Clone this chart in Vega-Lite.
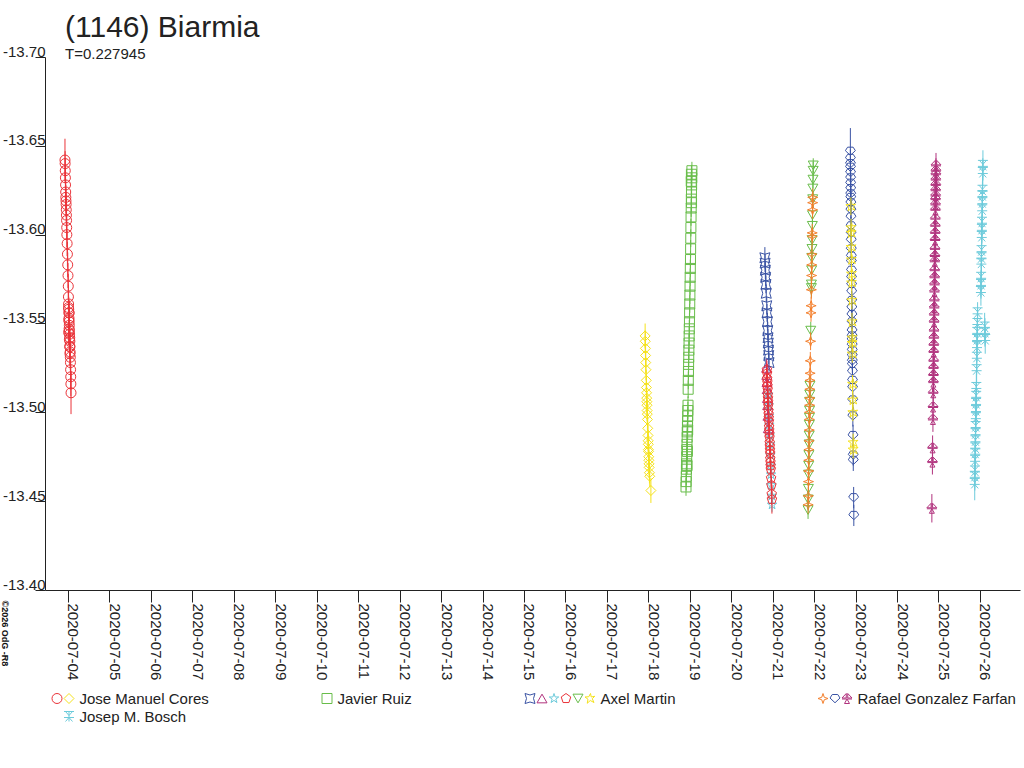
{
  "$schema": "https://vega.github.io/schema/vega-lite/v6.json",
  "autosize": {"type": "none"},
  "padding": {"left": 45, "top": 57, "right": 4, "bottom": 178},
  "width": 975,
  "height": 533,
  "background": "white",
  "title": {
    "text": "(1146) Biarmia",
    "subtitle": "T=0.227945",
    "anchor": "start",
    "frame": "group",
    "dx": 20,
    "offset": -18,
    "font": "Liberation Sans",
    "fontSize": 30,
    "fontWeight": "normal",
    "color": "#222222",
    "subtitleFont": "Liberation Sans",
    "subtitleFontSize": 15,
    "subtitleColor": "#222222",
    "subtitlePadding": 4
  },
  "data": {
    "values": [
      {"s":"a","t":"2020-07-03T22:15Z","m":-13.642,"e":0.012},
      {"s":"a","t":"2020-07-03T22:20Z","m":-13.640,"e":0.007},
      {"s":"a","t":"2020-07-03T22:25Z","m":-13.636,"e":0.007},
      {"s":"a","t":"2020-07-03T22:30Z","m":-13.632,"e":0.007},
      {"s":"a","t":"2020-07-03T22:35Z","m":-13.628,"e":0.007},
      {"s":"a","t":"2020-07-03T22:40Z","m":-13.624,"e":0.007},
      {"s":"a","t":"2020-07-03T22:45Z","m":-13.621,"e":0.007},
      {"s":"a","t":"2020-07-03T22:50Z","m":-13.619,"e":0.007},
      {"s":"a","t":"2020-07-03T22:55Z","m":-13.617,"e":0.007},
      {"s":"a","t":"2020-07-03T23:00Z","m":-13.614,"e":0.007},
      {"s":"a","t":"2020-07-03T23:05Z","m":-13.611,"e":0.007},
      {"s":"a","t":"2020-07-03T23:10Z","m":-13.608,"e":0.007},
      {"s":"a","t":"2020-07-03T23:15Z","m":-13.604,"e":0.007},
      {"s":"a","t":"2020-07-03T23:20Z","m":-13.600,"e":0.007},
      {"s":"a","t":"2020-07-03T23:30Z","m":-13.595,"e":0.007},
      {"s":"a","t":"2020-07-03T23:40Z","m":-13.589,"e":0.007},
      {"s":"a","t":"2020-07-03T23:50Z","m":-13.583,"e":0.007},
      {"s":"a","t":"2020-07-04T00:00Z","m":-13.577,"e":0.007},
      {"s":"a","t":"2020-07-04T00:10Z","m":-13.571,"e":0.007},
      {"s":"a","t":"2020-07-04T00:15Z","m":-13.565,"e":0.007},
      {"s":"a","t":"2020-07-04T00:18Z","m":-13.559,"e":0.007},
      {"s":"a","t":"2020-07-04T00:20Z","m":-13.561,"e":0.007},
      {"s":"a","t":"2020-07-04T00:22Z","m":-13.545,"e":0.007},
      {"s":"a","t":"2020-07-04T00:25Z","m":-13.558,"e":0.007},
      {"s":"a","t":"2020-07-04T00:28Z","m":-13.552,"e":0.007},
      {"s":"a","t":"2020-07-04T00:30Z","m":-13.556,"e":0.007},
      {"s":"a","t":"2020-07-04T00:35Z","m":-13.553,"e":0.007},
      {"s":"a","t":"2020-07-04T00:38Z","m":-13.547,"e":0.007},
      {"s":"a","t":"2020-07-04T00:40Z","m":-13.551,"e":0.007},
      {"s":"a","t":"2020-07-04T00:42Z","m":-13.556,"e":0.007},
      {"s":"a","t":"2020-07-04T00:45Z","m":-13.549,"e":0.007},
      {"s":"a","t":"2020-07-04T00:48Z","m":-13.541,"e":0.007},
      {"s":"a","t":"2020-07-04T00:50Z","m":-13.546,"e":0.007},
      {"s":"a","t":"2020-07-04T00:55Z","m":-13.544,"e":0.007},
      {"s":"a","t":"2020-07-04T00:58Z","m":-13.537,"e":0.007},
      {"s":"a","t":"2020-07-04T01:00Z","m":-13.542,"e":0.007},
      {"s":"a","t":"2020-07-04T01:05Z","m":-13.540,"e":0.007},
      {"s":"a","t":"2020-07-04T01:08Z","m":-13.533,"e":0.007},
      {"s":"a","t":"2020-07-04T01:10Z","m":-13.537,"e":0.007},
      {"s":"a","t":"2020-07-04T01:15Z","m":-13.534,"e":0.007},
      {"s":"a","t":"2020-07-04T01:20Z","m":-13.531,"e":0.007},
      {"s":"a","t":"2020-07-04T01:25Z","m":-13.528,"e":0.007},
      {"s":"a","t":"2020-07-04T01:30Z","m":-13.524,"e":0.007},
      {"s":"a","t":"2020-07-04T01:35Z","m":-13.520,"e":0.007},
      {"s":"a","t":"2020-07-04T01:40Z","m":-13.516,"e":0.007},
      {"s":"a","t":"2020-07-04T01:45Z","m":-13.511,"e":0.012},

      {"s":"b","t":"2020-07-17T22:10Z","m":-13.543,"e":0.007},
      {"s":"b","t":"2020-07-17T22:15Z","m":-13.540,"e":0.006},
      {"s":"b","t":"2020-07-17T22:20Z","m":-13.536,"e":0.006},
      {"s":"b","t":"2020-07-17T22:25Z","m":-13.532,"e":0.006},
      {"s":"b","t":"2020-07-17T22:30Z","m":-13.528,"e":0.006},
      {"s":"b","t":"2020-07-17T22:40Z","m":-13.524,"e":0.006},
      {"s":"b","t":"2020-07-17T22:50Z","m":-13.518,"e":0.006},
      {"s":"b","t":"2020-07-17T22:55Z","m":-13.514,"e":0.006},
      {"s":"b","t":"2020-07-17T23:00Z","m":-13.511,"e":0.006},
      {"s":"b","t":"2020-07-17T23:05Z","m":-13.508,"e":0.006},
      {"s":"b","t":"2020-07-17T23:10Z","m":-13.506,"e":0.006},
      {"s":"b","t":"2020-07-17T23:15Z","m":-13.504,"e":0.006},
      {"s":"b","t":"2020-07-17T23:20Z","m":-13.501,"e":0.006},
      {"s":"b","t":"2020-07-17T23:25Z","m":-13.499,"e":0.006},
      {"s":"b","t":"2020-07-17T23:30Z","m":-13.496,"e":0.006},
      {"s":"b","t":"2020-07-17T23:40Z","m":-13.491,"e":0.006},
      {"s":"b","t":"2020-07-17T23:50Z","m":-13.487,"e":0.006},
      {"s":"b","t":"2020-07-17T23:55Z","m":-13.484,"e":0.006},
      {"s":"b","t":"2020-07-18T00:00Z","m":-13.482,"e":0.006},
      {"s":"b","t":"2020-07-18T00:05Z","m":-13.479,"e":0.006},
      {"s":"b","t":"2020-07-18T00:10Z","m":-13.478,"e":0.006},
      {"s":"b","t":"2020-07-18T00:15Z","m":-13.475,"e":0.006},
      {"s":"b","t":"2020-07-18T00:20Z","m":-13.473,"e":0.006},
      {"s":"b","t":"2020-07-18T00:25Z","m":-13.471,"e":0.006},
      {"s":"b","t":"2020-07-18T00:30Z","m":-13.469,"e":0.006},
      {"s":"b","t":"2020-07-18T00:40Z","m":-13.466,"e":0.006},
      {"s":"b","t":"2020-07-18T00:50Z","m":-13.464,"e":0.006},
      {"s":"b","t":"2020-07-18T01:30Z","m":-13.456,"e":0.007},

      {"s":"c","t":"2020-07-18T21:50Z","m":-13.458,"e":0.005},
      {"s":"c","t":"2020-07-18T21:55Z","m":-13.461,"e":0.005},
      {"s":"c","t":"2020-07-18T22:00Z","m":-13.464,"e":0.005},
      {"s":"c","t":"2020-07-18T22:05Z","m":-13.468,"e":0.005},
      {"s":"c","t":"2020-07-18T22:10Z","m":-13.471,"e":0.005},
      {"s":"c","t":"2020-07-18T22:15Z","m":-13.475,"e":0.005},
      {"s":"c","t":"2020-07-18T22:20Z","m":-13.479,"e":0.005},
      {"s":"c","t":"2020-07-18T22:25Z","m":-13.482,"e":0.005},
      {"s":"c","t":"2020-07-18T22:28Z","m":-13.470,"e":0.005},
      {"s":"c","t":"2020-07-18T22:30Z","m":-13.486,"e":0.005},
      {"s":"c","t":"2020-07-18T22:35Z","m":-13.489,"e":0.005},
      {"s":"c","t":"2020-07-18T22:38Z","m":-13.478,"e":0.005},
      {"s":"c","t":"2020-07-18T22:40Z","m":-13.492,"e":0.005},
      {"s":"c","t":"2020-07-18T22:45Z","m":-13.495,"e":0.005},
      {"s":"c","t":"2020-07-18T22:48Z","m":-13.490,"e":0.005},
      {"s":"c","t":"2020-07-18T22:50Z","m":-13.498,"e":0.005},
      {"s":"c","t":"2020-07-18T22:55Z","m":-13.501,"e":0.005},
      {"s":"c","t":"2020-07-18T23:00Z","m":-13.504,"e":0.005},
      {"s":"c","t":"2020-07-18T23:05Z","m":-13.513,"e":0.005},
      {"s":"c","t":"2020-07-18T23:10Z","m":-13.518,"e":0.005},
      {"s":"c","t":"2020-07-18T23:15Z","m":-13.523,"e":0.005},
      {"s":"c","t":"2020-07-18T23:20Z","m":-13.527,"e":0.005},
      {"s":"c","t":"2020-07-18T23:25Z","m":-13.531,"e":0.005},
      {"s":"c","t":"2020-07-18T23:30Z","m":-13.535,"e":0.005},
      {"s":"c","t":"2020-07-18T23:35Z","m":-13.539,"e":0.005},
      {"s":"c","t":"2020-07-18T23:40Z","m":-13.543,"e":0.005},
      {"s":"c","t":"2020-07-18T23:45Z","m":-13.547,"e":0.005},
      {"s":"c","t":"2020-07-18T23:50Z","m":-13.551,"e":0.005},
      {"s":"c","t":"2020-07-18T23:55Z","m":-13.556,"e":0.005},
      {"s":"c","t":"2020-07-19T00:00Z","m":-13.561,"e":0.005},
      {"s":"c","t":"2020-07-19T00:05Z","m":-13.566,"e":0.005},
      {"s":"c","t":"2020-07-19T00:10Z","m":-13.571,"e":0.005},
      {"s":"c","t":"2020-07-19T00:15Z","m":-13.576,"e":0.005},
      {"s":"c","t":"2020-07-19T00:20Z","m":-13.581,"e":0.005},
      {"s":"c","t":"2020-07-19T00:25Z","m":-13.586,"e":0.005},
      {"s":"c","t":"2020-07-19T00:30Z","m":-13.592,"e":0.005},
      {"s":"c","t":"2020-07-19T00:35Z","m":-13.598,"e":0.005},
      {"s":"c","t":"2020-07-19T00:40Z","m":-13.604,"e":0.005},
      {"s":"c","t":"2020-07-19T00:45Z","m":-13.610,"e":0.005},
      {"s":"c","t":"2020-07-19T00:50Z","m":-13.615,"e":0.005},
      {"s":"c","t":"2020-07-19T00:52Z","m":-13.630,"e":0.005},
      {"s":"c","t":"2020-07-19T00:55Z","m":-13.620,"e":0.005},
      {"s":"c","t":"2020-07-19T00:58Z","m":-13.634,"e":0.005},
      {"s":"c","t":"2020-07-19T01:00Z","m":-13.624,"e":0.005},
      {"s":"c","t":"2020-07-19T01:02Z","m":-13.618,"e":0.005},
      {"s":"c","t":"2020-07-19T01:05Z","m":-13.628,"e":0.005},
      {"s":"c","t":"2020-07-19T01:10Z","m":-13.632,"e":0.005},
      {"s":"c","t":"2020-07-19T01:15Z","m":-13.636,"e":0.005},

      {"s":"d","t":"2020-07-20T19:30Z","m":-13.587,"e":0.006},
      {"s":"d","t":"2020-07-20T19:37Z","m":-13.584,"e":0.005},
      {"s":"d","t":"2020-07-20T19:47Z","m":-13.580,"e":0.005},
      {"s":"d","t":"2020-07-20T19:56Z","m":-13.576,"e":0.005},
      {"s":"d","t":"2020-07-20T20:07Z","m":-13.572,"e":0.005},
      {"s":"d","t":"2020-07-20T20:18Z","m":-13.567,"e":0.005},
      {"s":"d","t":"2020-07-20T20:35Z","m":-13.560,"e":0.005},
      {"s":"d","t":"2020-07-20T20:45Z","m":-13.556,"e":0.005},
      {"s":"d","t":"2020-07-20T20:59Z","m":-13.551,"e":0.005},
      {"s":"d","t":"2020-07-20T21:10Z","m":-13.546,"e":0.005},
      {"s":"d","t":"2020-07-20T21:19Z","m":-13.542,"e":0.005},
      {"s":"d","t":"2020-07-20T21:28Z","m":-13.539,"e":0.005},
      {"s":"d","t":"2020-07-20T21:37Z","m":-13.535,"e":0.005},
      {"s":"d","t":"2020-07-20T21:44Z","m":-13.532,"e":0.005},
      {"s":"d","t":"2020-07-20T21:54Z","m":-13.528,"e":0.005},

      {"s":"e","t":"2020-07-20T20:30Z","m":-13.525,"e":0.005},
      {"s":"e","t":"2020-07-20T20:37Z","m":-13.521,"e":0.005},
      {"s":"e","t":"2020-07-20T20:44Z","m":-13.517,"e":0.005},
      {"s":"e","t":"2020-07-20T20:52Z","m":-13.513,"e":0.005},
      {"s":"e","t":"2020-07-20T21:00Z","m":-13.508,"e":0.005},
      {"s":"e","t":"2020-07-20T21:07Z","m":-13.504,"e":0.005},
      {"s":"e","t":"2020-07-20T21:17Z","m":-13.498,"e":0.005},
      {"s":"e","t":"2020-07-20T21:30Z","m":-13.491,"e":0.005},

      {"s":"f","t":"2020-07-20T21:30Z","m":-13.510,"e":0.004},
      {"s":"f","t":"2020-07-20T21:42Z","m":-13.504,"e":0.004},
      {"s":"f","t":"2020-07-20T21:54Z","m":-13.498,"e":0.004},
      {"s":"f","t":"2020-07-20T22:05Z","m":-13.493,"e":0.004},
      {"s":"f","t":"2020-07-20T22:17Z","m":-13.487,"e":0.004},
      {"s":"f","t":"2020-07-20T22:29Z","m":-13.482,"e":0.004},
      {"s":"f","t":"2020-07-20T22:41Z","m":-13.476,"e":0.004},
      {"s":"f","t":"2020-07-20T22:53Z","m":-13.470,"e":0.004},
      {"s":"f","t":"2020-07-20T23:05Z","m":-13.465,"e":0.004},
      {"s":"f","t":"2020-07-20T23:16Z","m":-13.459,"e":0.004},
      {"s":"f","t":"2020-07-20T23:28Z","m":-13.453,"e":0.004},
      {"s":"f","t":"2020-07-20T23:40Z","m":-13.448,"e":0.004},

      {"s":"g","t":"2020-07-20T20:40Z","m":-13.524,"e":0.005},
      {"s":"g","t":"2020-07-20T20:45Z","m":-13.522,"e":0.005},
      {"s":"g","t":"2020-07-20T20:51Z","m":-13.519,"e":0.005},
      {"s":"g","t":"2020-07-20T20:56Z","m":-13.517,"e":0.005},
      {"s":"g","t":"2020-07-20T21:01Z","m":-13.515,"e":0.005},
      {"s":"g","t":"2020-07-20T21:07Z","m":-13.513,"e":0.005},
      {"s":"g","t":"2020-07-20T21:12Z","m":-13.510,"e":0.005},
      {"s":"g","t":"2020-07-20T21:18Z","m":-13.508,"e":0.005},
      {"s":"g","t":"2020-07-20T21:23Z","m":-13.506,"e":0.005},
      {"s":"g","t":"2020-07-20T21:28Z","m":-13.504,"e":0.005},
      {"s":"g","t":"2020-07-20T21:34Z","m":-13.501,"e":0.005},
      {"s":"g","t":"2020-07-20T21:39Z","m":-13.499,"e":0.005},
      {"s":"g","t":"2020-07-20T21:45Z","m":-13.497,"e":0.005},
      {"s":"g","t":"2020-07-20T21:50Z","m":-13.495,"e":0.005},
      {"s":"g","t":"2020-07-20T21:55Z","m":-13.492,"e":0.005},
      {"s":"g","t":"2020-07-20T22:01Z","m":-13.490,"e":0.005},
      {"s":"g","t":"2020-07-20T22:06Z","m":-13.488,"e":0.005},
      {"s":"g","t":"2020-07-20T22:11Z","m":-13.486,"e":0.005},
      {"s":"g","t":"2020-07-20T22:17Z","m":-13.483,"e":0.005},
      {"s":"g","t":"2020-07-20T22:22Z","m":-13.481,"e":0.005},
      {"s":"g","t":"2020-07-20T22:28Z","m":-13.479,"e":0.005},
      {"s":"g","t":"2020-07-20T22:33Z","m":-13.477,"e":0.005},
      {"s":"g","t":"2020-07-20T22:38Z","m":-13.474,"e":0.005},
      {"s":"g","t":"2020-07-20T22:44Z","m":-13.472,"e":0.005},
      {"s":"g","t":"2020-07-20T22:49Z","m":-13.470,"e":0.005},
      {"s":"g","t":"2020-07-20T22:55Z","m":-13.468,"e":0.005},
      {"s":"g","t":"2020-07-20T23:05Z","m":-13.463,"e":0.005},
      {"s":"g","t":"2020-07-20T23:16Z","m":-13.459,"e":0.005},
      {"s":"g","t":"2020-07-20T23:27Z","m":-13.454,"e":0.006},
      {"s":"g","t":"2020-07-20T23:35Z","m":-13.451,"e":0.008},

      {"s":"h","t":"2020-07-21T23:30Z","m":-13.639,"e":0.004},
      {"s":"h","t":"2020-07-21T23:28Z","m":-13.636,"e":0.005},
      {"s":"h","t":"2020-07-21T23:22Z","m":-13.631,"e":0.005},
      {"s":"h","t":"2020-07-21T23:17Z","m":-13.626,"e":0.005},
      {"s":"h","t":"2020-07-21T23:12Z","m":-13.620,"e":0.005},
      {"s":"h","t":"2020-07-21T23:04Z","m":-13.611,"e":0.005},
      {"s":"h","t":"2020-07-21T22:59Z","m":-13.605,"e":0.005},
      {"s":"h","t":"2020-07-21T22:51Z","m":-13.597,"e":0.005},
      {"s":"h","t":"2020-07-21T22:47Z","m":-13.592,"e":0.005},
      {"s":"h","t":"2020-07-21T22:41Z","m":-13.587,"e":0.005},
      {"s":"h","t":"2020-07-21T22:35Z","m":-13.580,"e":0.005},
      {"s":"h","t":"2020-07-21T22:27Z","m":-13.572,"e":0.005},
      {"s":"h","t":"2020-07-21T22:26Z","m":-13.570,"e":0.005},
      {"s":"h","t":"2020-07-21T22:04Z","m":-13.546,"e":0.005},
      {"s":"h","t":"2020-07-21T21:35Z","m":-13.515,"e":0.005},
      {"s":"h","t":"2020-07-21T21:30Z","m":-13.510,"e":0.005},
      {"s":"h","t":"2020-07-21T21:26Z","m":-13.506,"e":0.005},
      {"s":"h","t":"2020-07-21T21:22Z","m":-13.501,"e":0.005},
      {"s":"h","t":"2020-07-21T21:18Z","m":-13.497,"e":0.005},
      {"s":"h","t":"2020-07-21T21:14Z","m":-13.493,"e":0.005},
      {"s":"h","t":"2020-07-21T21:09Z","m":-13.487,"e":0.005},
      {"s":"h","t":"2020-07-21T21:04Z","m":-13.482,"e":0.005},
      {"s":"h","t":"2020-07-21T20:59Z","m":-13.476,"e":0.005},
      {"s":"h","t":"2020-07-21T20:53Z","m":-13.470,"e":0.005},
      {"s":"h","t":"2020-07-21T20:48Z","m":-13.465,"e":0.005},
      {"s":"h","t":"2020-07-21T20:41Z","m":-13.457,"e":0.005},
      {"s":"h","t":"2020-07-21T20:35Z","m":-13.451,"e":0.005},
      {"s":"h","t":"2020-07-21T20:30Z","m":-13.445,"e":0.005},

      {"s":"j","t":"2020-07-21T23:13Z","m":-13.621,"e":0.005},
      {"s":"j","t":"2020-07-21T23:10Z","m":-13.618,"e":0.005},
      {"s":"j","t":"2020-07-21T23:07Z","m":-13.614,"e":0.005},
      {"s":"j","t":"2020-07-21T22:55Z","m":-13.601,"e":0.005},
      {"s":"j","t":"2020-07-21T22:53Z","m":-13.599,"e":0.005},
      {"s":"j","t":"2020-07-21T22:43Z","m":-13.589,"e":0.005},
      {"s":"j","t":"2020-07-21T22:38Z","m":-13.583,"e":0.005},
      {"s":"j","t":"2020-07-21T22:33Z","m":-13.577,"e":0.005},
      {"s":"j","t":"2020-07-21T22:25Z","m":-13.569,"e":0.005},
      {"s":"j","t":"2020-07-21T22:17Z","m":-13.560,"e":0.005},
      {"s":"j","t":"2020-07-21T22:13Z","m":-13.556,"e":0.005},
      {"s":"j","t":"2020-07-21T21:58Z","m":-13.540,"e":0.005},
      {"s":"j","t":"2020-07-21T21:48Z","m":-13.529,"e":0.005},
      {"s":"j","t":"2020-07-21T21:42Z","m":-13.522,"e":0.005},
      {"s":"j","t":"2020-07-21T21:38Z","m":-13.518,"e":0.005},
      {"s":"j","t":"2020-07-21T21:33Z","m":-13.513,"e":0.005},
      {"s":"j","t":"2020-07-21T21:28Z","m":-13.508,"e":0.005},
      {"s":"j","t":"2020-07-21T21:25Z","m":-13.504,"e":0.005},
      {"s":"j","t":"2020-07-21T21:21Z","m":-13.500,"e":0.005},
      {"s":"j","t":"2020-07-21T21:17Z","m":-13.496,"e":0.005},
      {"s":"j","t":"2020-07-21T21:12Z","m":-13.490,"e":0.005},
      {"s":"j","t":"2020-07-21T21:07Z","m":-13.484,"e":0.005},
      {"s":"j","t":"2020-07-21T21:01Z","m":-13.479,"e":0.005},
      {"s":"j","t":"2020-07-21T20:56Z","m":-13.473,"e":0.005},
      {"s":"j","t":"2020-07-21T20:51Z","m":-13.467,"e":0.005},
      {"s":"j","t":"2020-07-21T20:45Z","m":-13.461,"e":0.005},
      {"s":"j","t":"2020-07-21T20:38Z","m":-13.453,"e":0.005},
      {"s":"j","t":"2020-07-21T20:33Z","m":-13.448,"e":0.005},

      {"s":"k","t":"2020-07-22T21:00Z","m":-13.647,"e":0.013},
      {"s":"k","t":"2020-07-22T21:02Z","m":-13.643,"e":0.005},
      {"s":"k","t":"2020-07-22T21:04Z","m":-13.640,"e":0.005},
      {"s":"k","t":"2020-07-22T21:05Z","m":-13.638,"e":0.005},
      {"s":"k","t":"2020-07-22T21:07Z","m":-13.635,"e":0.005},
      {"s":"k","t":"2020-07-22T21:09Z","m":-13.632,"e":0.005},
      {"s":"k","t":"2020-07-22T21:10Z","m":-13.629,"e":0.005},
      {"s":"k","t":"2020-07-22T21:12Z","m":-13.626,"e":0.005},
      {"s":"k","t":"2020-07-22T21:13Z","m":-13.623,"e":0.005},
      {"s":"k","t":"2020-07-22T21:15Z","m":-13.621,"e":0.005},
      {"s":"k","t":"2020-07-22T21:17Z","m":-13.618,"e":0.005},
      {"s":"k","t":"2020-07-22T21:19Z","m":-13.614,"e":0.005},
      {"s":"k","t":"2020-07-22T21:21Z","m":-13.610,"e":0.005},
      {"s":"k","t":"2020-07-22T21:24Z","m":-13.605,"e":0.005},
      {"s":"k","t":"2020-07-22T21:26Z","m":-13.601,"e":0.005},
      {"s":"k","t":"2020-07-22T21:29Z","m":-13.597,"e":0.005},
      {"s":"k","t":"2020-07-22T21:32Z","m":-13.592,"e":0.005},
      {"s":"k","t":"2020-07-22T21:34Z","m":-13.588,"e":0.005},
      {"s":"k","t":"2020-07-22T21:36Z","m":-13.585,"e":0.005},
      {"s":"k","t":"2020-07-22T21:39Z","m":-13.580,"e":0.005},
      {"s":"k","t":"2020-07-22T21:41Z","m":-13.576,"e":0.005},
      {"s":"k","t":"2020-07-22T21:44Z","m":-13.572,"e":0.005},
      {"s":"k","t":"2020-07-22T21:46Z","m":-13.568,"e":0.005},
      {"s":"k","t":"2020-07-22T21:49Z","m":-13.563,"e":0.005},
      {"s":"k","t":"2020-07-22T21:51Z","m":-13.559,"e":0.005},
      {"s":"k","t":"2020-07-22T21:54Z","m":-13.555,"e":0.005},
      {"s":"k","t":"2020-07-22T21:56Z","m":-13.551,"e":0.005},
      {"s":"k","t":"2020-07-22T21:59Z","m":-13.546,"e":0.005},
      {"s":"k","t":"2020-07-22T22:00Z","m":-13.543,"e":0.005},
      {"s":"k","t":"2020-07-22T22:02Z","m":-13.541,"e":0.005},
      {"s":"k","t":"2020-07-22T22:03Z","m":-13.538,"e":0.005},
      {"s":"k","t":"2020-07-22T22:05Z","m":-13.535,"e":0.005},
      {"s":"k","t":"2020-07-22T22:07Z","m":-13.532,"e":0.005},
      {"s":"k","t":"2020-07-22T22:08Z","m":-13.529,"e":0.005},
      {"s":"k","t":"2020-07-22T22:10Z","m":-13.527,"e":0.005},
      {"s":"k","t":"2020-07-22T22:12Z","m":-13.523,"e":0.005},
      {"s":"k","t":"2020-07-22T22:15Z","m":-13.518,"e":0.005},
      {"s":"k","t":"2020-07-22T22:18Z","m":-13.514,"e":0.005},
      {"s":"k","t":"2020-07-22T22:22Z","m":-13.507,"e":0.005},
      {"s":"k","t":"2020-07-22T22:26Z","m":-13.498,"e":0.006},
      {"s":"k","t":"2020-07-22T22:33Z","m":-13.487,"e":0.006},
      {"s":"k","t":"2020-07-22T22:40Z","m":-13.476,"e":0.006},
      {"s":"k","t":"2020-07-22T22:41Z","m":-13.473,"e":0.006},
      {"s":"k","t":"2020-07-22T22:54Z","m":-13.452,"e":0.006},
      {"s":"k","t":"2020-07-22T23:00Z","m":-13.442,"e":0.006},

      {"s":"i","t":"2020-07-22T21:18Z","m":-13.616,"e":0.005},
      {"s":"i","t":"2020-07-22T21:25Z","m":-13.604,"e":0.005},
      {"s":"i","t":"2020-07-22T21:27Z","m":-13.601,"e":0.005},
      {"s":"i","t":"2020-07-22T21:31Z","m":-13.593,"e":0.005},
      {"s":"i","t":"2020-07-22T21:36Z","m":-13.586,"e":0.005},
      {"s":"i","t":"2020-07-22T21:40Z","m":-13.578,"e":0.005},
      {"s":"i","t":"2020-07-22T21:43Z","m":-13.573,"e":0.005},
      {"s":"i","t":"2020-07-22T21:49Z","m":-13.563,"e":0.005},
      {"s":"i","t":"2020-07-22T21:56Z","m":-13.551,"e":0.005},
      {"s":"i","t":"2020-07-22T22:01Z","m":-13.542,"e":0.005},
      {"s":"i","t":"2020-07-22T22:03Z","m":-13.539,"e":0.005},
      {"s":"i","t":"2020-07-22T22:06Z","m":-13.533,"e":0.005},
      {"s":"i","t":"2020-07-22T22:16Z","m":-13.516,"e":0.005},
      {"s":"i","t":"2020-07-22T22:22Z","m":-13.507,"e":0.005},
      {"s":"i","t":"2020-07-22T22:26Z","m":-13.500,"e":0.005},
      {"s":"i","t":"2020-07-22T22:36Z","m":-13.483,"e":0.005},
      {"s":"i","t":"2020-07-22T22:38Z","m":-13.479,"e":0.005},

      {"s":"l","t":"2020-07-24T22:35Z","m":-13.639,"e":0.007},
      {"s":"l","t":"2020-07-24T22:33Z","m":-13.636,"e":0.007},
      {"s":"l","t":"2020-07-24T22:31Z","m":-13.634,"e":0.007},
      {"s":"l","t":"2020-07-24T22:29Z","m":-13.631,"e":0.007},
      {"s":"l","t":"2020-07-24T22:27Z","m":-13.628,"e":0.007},
      {"s":"l","t":"2020-07-24T22:25Z","m":-13.625,"e":0.007},
      {"s":"l","t":"2020-07-24T22:22Z","m":-13.622,"e":0.007},
      {"s":"l","t":"2020-07-24T22:20Z","m":-13.620,"e":0.007},
      {"s":"l","t":"2020-07-24T22:18Z","m":-13.617,"e":0.007},
      {"s":"l","t":"2020-07-24T22:16Z","m":-13.614,"e":0.007},
      {"s":"l","t":"2020-07-24T22:13Z","m":-13.609,"e":0.007},
      {"s":"l","t":"2020-07-24T22:10Z","m":-13.605,"e":0.007},
      {"s":"l","t":"2020-07-24T22:07Z","m":-13.601,"e":0.007},
      {"s":"l","t":"2020-07-24T22:04Z","m":-13.597,"e":0.007},
      {"s":"l","t":"2020-07-24T22:00Z","m":-13.592,"e":0.007},
      {"s":"l","t":"2020-07-24T21:57Z","m":-13.588,"e":0.007},
      {"s":"l","t":"2020-07-24T21:54Z","m":-13.585,"e":0.007},
      {"s":"l","t":"2020-07-24T21:51Z","m":-13.580,"e":0.007},
      {"s":"l","t":"2020-07-24T21:48Z","m":-13.576,"e":0.007},
      {"s":"l","t":"2020-07-24T21:45Z","m":-13.572,"e":0.007},
      {"s":"l","t":"2020-07-24T21:42Z","m":-13.568,"e":0.007},
      {"s":"l","t":"2020-07-24T21:38Z","m":-13.563,"e":0.007},
      {"s":"l","t":"2020-07-24T21:35Z","m":-13.559,"e":0.007},
      {"s":"l","t":"2020-07-24T21:32Z","m":-13.555,"e":0.007},
      {"s":"l","t":"2020-07-24T21:29Z","m":-13.551,"e":0.007},
      {"s":"l","t":"2020-07-24T21:26Z","m":-13.546,"e":0.007},
      {"s":"l","t":"2020-07-24T21:22Z","m":-13.542,"e":0.007},
      {"s":"l","t":"2020-07-24T21:19Z","m":-13.538,"e":0.007},
      {"s":"l","t":"2020-07-24T21:16Z","m":-13.534,"e":0.007},
      {"s":"l","t":"2020-07-24T21:13Z","m":-13.529,"e":0.007},
      {"s":"l","t":"2020-07-24T21:10Z","m":-13.525,"e":0.007},
      {"s":"l","t":"2020-07-24T21:07Z","m":-13.521,"e":0.007},
      {"s":"l","t":"2020-07-24T21:04Z","m":-13.517,"e":0.007},
      {"s":"l","t":"2020-07-24T20:59Z","m":-13.511,"e":0.007},
      {"s":"l","t":"2020-07-24T20:53Z","m":-13.503,"e":0.007},
      {"s":"l","t":"2020-07-24T20:48Z","m":-13.496,"e":0.007},
      {"s":"l","t":"2020-07-24T20:37Z","m":-13.480,"e":0.007},
      {"s":"l","t":"2020-07-24T20:30Z","m":-13.472,"e":0.007},
      {"s":"l","t":"2020-07-24T20:11Z","m":-13.446,"e":0.008},

      {"s":"m","t":"2020-07-25T22:40Z","m":-13.556,"e":0.006},
      {"s":"m","t":"2020-07-25T22:34Z","m":-13.550,"e":0.008},
      {"s":"m","t":"2020-07-25T22:28Z","m":-13.545,"e":0.008},
      {"s":"m","t":"2020-07-25T22:24Z","m":-13.541,"e":0.008},
      {"s":"m","t":"2020-07-25T22:20Z","m":-13.537,"e":0.008},
      {"s":"m","t":"2020-07-25T22:14Z","m":-13.531,"e":0.008},
      {"s":"m","t":"2020-07-25T22:06Z","m":-13.524,"e":0.008},
      {"s":"m","t":"2020-07-25T21:56Z","m":-13.514,"e":0.008},
      {"s":"m","t":"2020-07-25T21:51Z","m":-13.509,"e":0.008},
      {"s":"m","t":"2020-07-25T21:47Z","m":-13.505,"e":0.008},
      {"s":"m","t":"2020-07-25T21:43Z","m":-13.501,"e":0.008},
      {"s":"m","t":"2020-07-25T21:39Z","m":-13.497,"e":0.008},
      {"s":"m","t":"2020-07-25T21:33Z","m":-13.492,"e":0.008},
      {"s":"m","t":"2020-07-25T21:29Z","m":-13.488,"e":0.008},
      {"s":"m","t":"2020-07-25T21:25Z","m":-13.484,"e":0.008},
      {"s":"m","t":"2020-07-25T21:21Z","m":-13.480,"e":0.008},
      {"s":"m","t":"2020-07-25T21:18Z","m":-13.477,"e":0.008},
      {"s":"m","t":"2020-07-25T21:14Z","m":-13.473,"e":0.008},
      {"s":"m","t":"2020-07-25T21:08Z","m":-13.467,"e":0.008},
      {"s":"m","t":"2020-07-25T21:04Z","m":-13.464,"e":0.008},
      {"s":"m","t":"2020-07-25T21:00Z","m":-13.460,"e":0.0095},
      {"s":"m","t":"2020-07-26T00:35Z","m":-13.568,"e":0.008},
      {"s":"m","t":"2020-07-26T00:39Z","m":-13.572,"e":0.008},
      {"s":"m","t":"2020-07-26T00:43Z","m":-13.576,"e":0.008},
      {"s":"m","t":"2020-07-26T00:51Z","m":-13.584,"e":0.008},
      {"s":"m","t":"2020-07-26T00:54Z","m":-13.587,"e":0.008},
      {"s":"m","t":"2020-07-26T00:58Z","m":-13.591,"e":0.008},
      {"s":"m","t":"2020-07-26T01:05Z","m":-13.599,"e":0.008},
      {"s":"m","t":"2020-07-26T01:09Z","m":-13.603,"e":0.008},
      {"s":"m","t":"2020-07-26T01:13Z","m":-13.607,"e":0.008},
      {"s":"m","t":"2020-07-26T01:20Z","m":-13.614,"e":0.008},
      {"s":"m","t":"2020-07-26T01:25Z","m":-13.618,"e":0.008},
      {"s":"m","t":"2020-07-26T01:28Z","m":-13.622,"e":0.008},
      {"s":"m","t":"2020-07-26T01:31Z","m":-13.625,"e":0.008},
      {"s":"m","t":"2020-07-26T01:41Z","m":-13.635,"e":0.008},
      {"s":"m","t":"2020-07-26T01:45Z","m":-13.639,"e":0.0085},
      {"s":"m","t":"2020-07-26T02:45Z","m":-13.548,"e":0.008},
      {"s":"m","t":"2020-07-26T02:55Z","m":-13.545,"e":0.008},
      {"s":"m","t":"2020-07-26T03:05Z","m":-13.541,"e":0.008}
    ]
  },
  "encoding": {
    "x": {
      "field": "t",
      "type": "temporal",
      "scale": {
        "type": "utc",
        "domain": [
          {"year": 2020, "month": 7, "date": 3, "hours": 10, "minutes": 41, "utc": true},
          {"year": 2020, "month": 7, "date": 26, "hours": 23, "minutes": 13, "utc": true}
        ]
      },
      "axis": {
        "title": null,
        "format": "%Y-%m-%d",
        "tickCount": {"interval": "day", "step": 1},
        "labelAngle": 90,
        "labelAlign": "left",
        "labelBaseline": "alphabetic",
        "labelOverlap": false,
        "labelFlush": false,
        "labelPadding": 1,
        "tickSize": 12,
        "grid": false
      }
    },
    "y": {
      "field": "m",
      "type": "quantitative",
      "scale": {"domain": [-13.7, -13.4], "reverse": true, "nice": false, "zero": false},
      "axis": {
        "title": "©2026 OdG -R8",
        "titleAngle": 90,
        "titleAlign": "left",
        "titleBaseline": "alphabetic",
        "titleX": -44,
        "titleY": 543,
        "titleFont": "Liberation Sans",
        "titleFontSize": 9,
        "titleFontWeight": "bold",
        "titleColor": "#111111",
        "values": [-13.7, -13.65, -13.6, -13.55, -13.5, -13.45, -13.4],
        "labelExpr": "'-' + format(-datum.value, '.2f')",
        "labelBaseline": "alphabetic",
        "labelAlign": "right",
        "labelPadding": -10,
        "labelOffset": -1,
        "tickSize": 10,
        "grid": false
      }
    }
  },
  "layer": [
    {
      "mark": {"type": "point", "filled": false, "size": 100, "strokeWidth": 1, "opacity": 1},
      "encoding": {
        "color": {
          "field": "s",
          "type": "nominal",
          "scale": {
            "domain": ["a", "b", "c", "d", "e", "f", "g", "h", "i", "j", "k", "l", "z", "m"],
            "range": ["#ea3339", "#f5e21b", "#68bd4a", "#3a53a4", "#b1337e", "#6dcbdb", "#ea3339", "#68bd4a", "#f5e21b", "#f47f2c", "#3a53a4", "#b1337e", "#ffffff", "#6dcbdb"]
          },
          "legend": {
            "title": null,
            "orient": "none",
            "legendX": 4.5,
            "legendY": 634,
            "direction": "horizontal",
            "columns": 12,
            "gridAlign": "none",
            "columnPadding": -6,
            "rowPadding": 2,
            "padding": 0,
            "symbolSize": 100,
            "symbolStrokeWidth": 1,
            "symbolOpacity": 1,
            "labelOffset": 3,
            "labelFont": "Liberation Sans",
            "labelFontSize": 15,
            "labelColor": "#222222",
            "labelLimit": 600,
            "labelExpr": "datum.value == 'b' ? pad('Jose Manuel Cores', 45, '\u00a0') + '\u200b' : datum.value == 'c' ? pad('Javier Ruiz', 39, '\u00a0') + '\u200b' : datum.value == 'i' ? pad('Axel Martin', 46, '\u00a0') + '\u200b' : datum.value == 'l' ? 'Rafael Gonzalez Farfan' : datum.value == 'm' ? 'Josep M. Bosch' : ''"
          }
        },
        "shape": {
          "field": "s",
          "type": "nominal",
          "scale": {
            "domain": ["a", "b", "c", "d", "e", "f", "g", "h", "i", "j", "k", "l", "z", "m"],
            "range": [
              "circle",
              "diamond",
              "square",
              "M-1,-1Q0,-0.4,1,-1Q0.4,0,1,1Q0,0.4,-1,1Q-0.4,0,-1,-1Z",
              "triangle-up",
              "M0,-1L0.225,-0.309L0.951,-0.309L0.363,0.118L0.588,0.809L0,0.382L-0.588,0.809L-0.363,0.118L-0.951,-0.309L-0.225,-0.309Z",
              "M0,-1L0.951,-0.309L0.588,0.809L-0.588,0.809L-0.951,-0.309Z",
              "triangle-down",
              "M0.1,-1L0.25,-0.3L0.95,-0.45L0.45,0.05L0.8,0.8L0.05,0.4L-0.55,0.95L-0.4,0.15L-1,-0.3L-0.25,-0.35Z",
              "M0,-1L0.25,-0.25L1,0L0.25,0.25L0,1L-0.25,0.25L-1,0L-0.25,-0.25Z",
              "M-0.55,-0.8L0.55,-0.8L1,-0.1L0,0.85L-1,-0.1Z",
              "M-1,-0.1L-0.15,-1L-0.15,-0.1ZM1,-0.1L0.15,-1L0.15,-0.1ZM-1,0.1L1,0.1M0,0.1L-0.5,1L0.5,1Z",
              "circle",
              "M-1,-1L1,-1M-0.7,-1L0,-0.2L0.7,-1M0,-1L0,1M-1,0.2L1,0.2M-0.7,1L0,0.2L0.7,1"
            ]
          }
        }
      }
    },
    {
      "mark": {"type": "errorbar", "ticks": false, "thickness": 1},
      "encoding": {
        "yError": {"field": "e"},
        "color": {"field": "s", "type": "nominal", "legend": null}
      }
    }
  ],
  "config": {
    "view": {"stroke": null},
    "font": "Liberation Sans",
    "axis": {
      "domainColor": "#222222",
      "tickColor": "#222222",
      "labelColor": "#222222",
      "labelFont": "Liberation Sans",
      "labelFontSize": 15,
      "domainWidth": 1,
      "tickWidth": 1
    }
  }
}
